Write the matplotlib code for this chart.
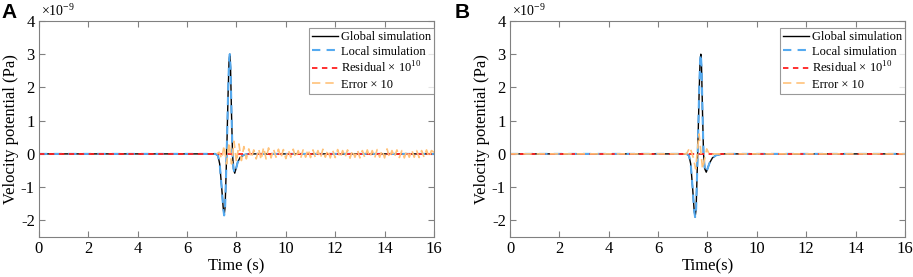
import numpy as np
import matplotlib.pyplot as plt

plt.rcParams['font.family'] = 'Liberation Serif'
plt.rcParams['mathtext.fontset'] = 'custom'
plt.rcParams['mathtext.rm'] = 'Liberation Serif'
plt.rcParams['axes.unicode_minus'] = False

# main pulse (units of 1e-9 Pa)
t_a = [0, 7.15, 7.25, 7.32, 7.40, 7.46, 7.50, 7.54, 7.58, 7.62, 7.66, 7.70, 7.73,
       7.76, 7.80, 7.84, 7.88, 7.93, 7.98, 8.05, 8.15, 8.30, 8.50, 16]
sim_a = [0, 0, -0.05, -0.3, -1.0, -1.6, -1.85, -1.6, -0.6, 0.5, 1.8, 2.8, 3.0,
         2.6, 1.2, 0.0, -0.45, -0.58, -0.45, -0.25, -0.1, -0.03, 0, 0]

t_b = [0, 7.15, 7.25, 7.32, 7.40, 7.46, 7.50, 7.54, 7.58, 7.62, 7.66, 7.70, 7.73,
       7.76, 7.80, 7.84, 7.89, 7.95, 8.00, 8.08, 8.20, 8.35, 8.60, 16]
sim_b = [0, 0, -0.05, -0.3, -1.05, -1.7, -1.9, -1.65, -0.6, 0.5, 1.8, 2.8, 3.0,
         2.6, 1.2, 0.0, -0.45, -0.55, -0.45, -0.28, -0.12, -0.04, 0, 0]

# residual x 1e10 is flat
t_res = [0, 16]
res = [0, 0]

# error x 10, panel A (every 0.1 s from 7.2 s)
t_err_a = np.round(np.arange(7.2, 16.001, 0.1), 2)
err_a = [0, 0.05, -0.15, 0.25, -0.3, 0.35, -0.3, 0.38, -0.25, 0.3,
         -0.2, 0.22, -0.15, 0.15, -0.12, 0.12, -0.15, 0.15, -0.18, 0.2,
         -0.15, 0.18, -0.12, 0.15, -0.1, 0.14, -0.12, 0.13, -0.14, 0.12,
         -0.1, 0.14, -0.12, 0.1, -0.13, 0.12, -0.1, 0.14, -0.11, 0.12,
         -0.12, 0.1, -0.13, 0.14, -0.1, 0.12, -0.12, 0.1, -0.11, 0.13,
         -0.12, 0.1, -0.1, 0.12, -0.13, 0.11, -0.1, 0.12, -0.12, 0.1,
         -0.11, 0.12, -0.1, 0.1, -0.12, 0.13, -0.1, 0.11, -0.12, 0.15,
         -0.12, 0.1, -0.1, 0.12, -0.11, 0.1, -0.12, 0.1, -0.1, 0.12,
         -0.1, 0.1, -0.11, 0.1, -0.1, 0.12, -0.1, 0.1, 0.05]

# error x 10, panel B
t_err_b = [0, 7.15, 7.29, 7.42, 7.52, 7.66, 7.80, 7.97, 8.10, 8.25, 16]
err_b = [0, 0, 0.2, -0.1, -0.45, 0.6, -0.45, 0.15, -0.05, 0, 0]

c_blue = '#55aaf0'
c_red = '#ff2020'
c_orange = '#ffc27a'


def panel(ax, t, sim, t_err, err, xlab):
    ax.plot(t, sim, color='black', lw=1.0, label='Global simulation')
    ax.plot(t, sim, color=c_blue, lw=1.5, ls=(0, (4, 3)), label='Local simulation')
    ax.plot(t_res, res, color=c_red, lw=1.3, ls=(0, (3, 2.5)), label='Residual × 10$^{10}$')
    ax.plot(t_err, err, color=c_orange, lw=1.2, ls=(0, (5, 3)), label='Error × 10')
    ax.set_xlim(0, 16)
    ax.set_ylim(-2.5, 4)
    ax.set_xticks(range(0, 17, 2))
    ax.set_yticks(range(-2, 5))
    ax.tick_params(direction='in', top=True, right=True, labelsize=12,
                   color='#808080', length=4, pad=3)
    for s in ax.spines.values():
        s.set_color('#808080')
    ax.set_xlabel(xlab, fontsize=12, labelpad=1)
    ax.set_ylabel('Velocity potential (Pa)', fontsize=12, labelpad=1)
    leg = ax.legend(loc='upper right', bbox_to_anchor=(1.0, 0.968), fontsize=9,
                    frameon=True, fancybox=False, handlelength=2.1,
                    handletextpad=0.2, borderpad=0.25, labelspacing=0.22,
                    borderaxespad=0)
    leg.get_frame().set_edgecolor('#808080')
    leg.get_frame().set_linewidth(0.8)
    ax.text(0.005, 1.01, '×10$^{-9}$', transform=ax.transAxes, fontsize=10,
            va='bottom', ha='left')


fig = plt.figure(figsize=(9.13, 2.77), dpi=100)
ax1 = fig.add_axes([0.0427, 0.1444, 0.4326, 0.78])
ax2 = fig.add_axes([0.5586, 0.1444, 0.4326, 0.78])
panel(ax1, t_a, sim_a, t_err_a, err_a, 'Time (s)')
panel(ax2, t_b, sim_b, t_err_b, err_b, 'Time(s)')

fig.text(0.002, 0.99, 'A', fontsize=15, fontweight='bold', family='Liberation Sans',
         va='top', ha='left')
fig.text(0.498, 0.99, 'B', fontsize=15, fontweight='bold', family='Liberation Sans',
         va='top', ha='left')

fig.savefig('out.png', dpi=100)
